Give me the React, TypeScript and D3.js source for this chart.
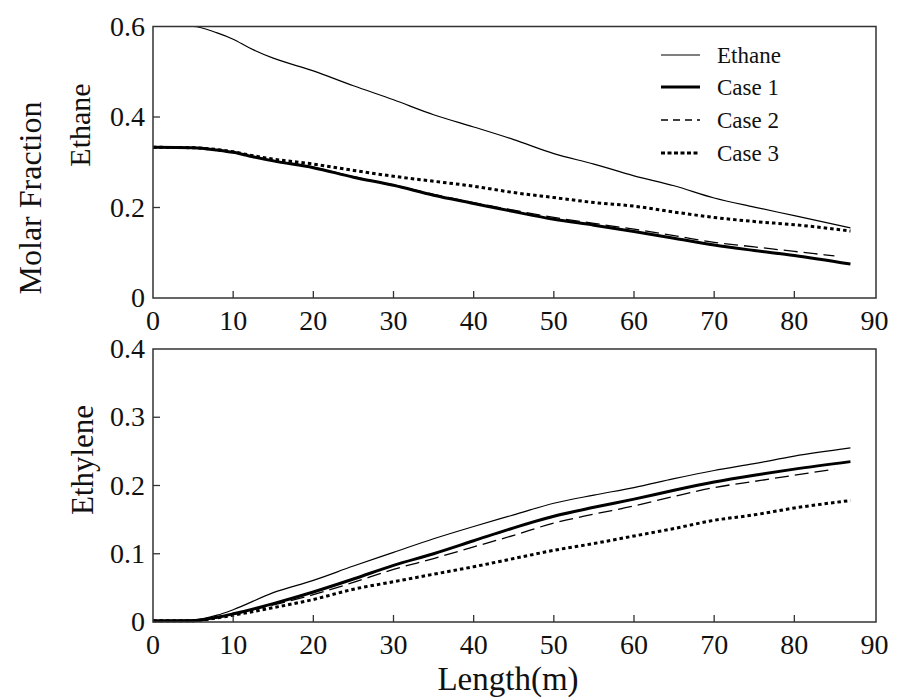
import React from "react";
import * as d3 from "d3";

// ---------- Data ----------
const xTicks = [0, 10, 20, 30, 40, 50, 60, 70, 80, 90];
const topYTicks = [0, 0.2, 0.4, 0.6];
const bottomYTicks = [0, 0.1, 0.2, 0.3, 0.4];

const seriesNames = ["Ethane", "Case 1", "Case 2", "Case 3"];

// Top panel (Ethane molar fraction)
const topX = [0, 5, 8, 10, 12, 15, 20, 25, 30, 35, 40, 45, 50, 55, 60, 65, 70, 75, 80, 87];
const topEthane = [0.6, 0.6, 0.586, 0.572, 0.553, 0.53, 0.502, 0.469, 0.438, 0.405, 0.378, 0.35, 0.319, 0.296, 0.27, 0.248, 0.221, 0.201, 0.182, 0.155];
const topCase1 = [0.333, 0.332, 0.327, 0.322, 0.314, 0.303, 0.288, 0.267, 0.249, 0.227, 0.209, 0.191, 0.174, 0.161, 0.147, 0.132, 0.117, 0.105, 0.094, 0.075];
const topCase2 = [0.333, 0.332, 0.327, 0.322, 0.314, 0.304, 0.289, 0.268, 0.25, 0.229, 0.211, 0.194, 0.178, 0.165, 0.152, 0.138, 0.123, 0.113, 0.103, 0.093];
const topCase3 = [0.333, 0.332, 0.328, 0.323, 0.316, 0.307, 0.296, 0.282, 0.269, 0.258, 0.247, 0.233, 0.222, 0.211, 0.203, 0.19, 0.178, 0.169, 0.162, 0.148];

// Bottom panel (Ethylene molar fraction)
const botX = [0, 5, 8, 10, 15, 20, 25, 30, 35, 40, 45, 50, 55, 60, 65, 70, 75, 80, 87];
const botEthane = [0.002, 0.003, 0.01, 0.018, 0.043, 0.061, 0.082, 0.102, 0.122, 0.14, 0.157, 0.174, 0.186, 0.197, 0.21, 0.222, 0.232, 0.243, 0.255];
const botCase1 = [0.002, 0.002, 0.007, 0.012, 0.027, 0.044, 0.063, 0.083, 0.1, 0.119, 0.138, 0.155, 0.168, 0.18, 0.193, 0.205, 0.215, 0.224, 0.235];
const botCase2 = [0.002, 0.002, 0.006, 0.011, 0.025, 0.04, 0.058, 0.077, 0.093, 0.11, 0.127, 0.145, 0.158, 0.17, 0.184, 0.197, 0.206, 0.215, 0.224];
const botCase3 = [0.002, 0.002, 0.006, 0.01, 0.021, 0.033, 0.048, 0.059, 0.07, 0.081, 0.093, 0.105, 0.115, 0.126, 0.137, 0.149, 0.157, 0.167, 0.178];

// ---------- Styles ----------
const FONT = "'Liberation Serif', 'Times New Roman', serif";
const styles = [
  { width: 1.2, dash: "none", legendDash: "none" },
  { width: 3, dash: "none", legendDash: "none" },
  { width: 1.3, dash: "14,6", legendDash: "7,5" },
  { width: 3, dash: "3.5,3", legendDash: "4,2.5" },
];

const W = 898;
const H = 699;
const left = 153;
const right = 876;

const x = d3.scaleLinear().domain([0, 90]).range([left, right - 1.5]);
const yTop = d3.scaleLinear().domain([0, 0.6]).range([298, 26.5]);
const yBot = d3.scaleLinear().domain([0, 0.4]).range([622, 349]);

function toPts(xs: number[], ys: number[]): [number, number][] {
  const n = Math.min(xs.length, ys.length);
  const out: [number, number][] = [];
  for (let i = 0; i < n; i++) out.push([xs[i], ys[i]]);
  return out;
}

function Panel({ y, xs, data, yTicks, isTop }: any) {
  const line = d3
    .line<[number, number]>()
    .x((d) => x(d[0]))
    .y((d) => y(d[1]))
    .curve(d3.curveMonotoneX);
  const [y0, y1] = y.range();
  return (
    <g>
      {data.map((ys: number[], i: number) => {
        let xx = xs;
        if (i === 2) {
          // Case 2 ends slightly earlier
          xx = xs.slice(0, xs.length - 1).concat([85]);
        }
        if (i === 0 && isTop) {
          xx = [1].concat(xs.slice(1));
        }
        return (
          <path
            key={i}
            d={line(toPts(xx, ys)) || ""}
            fill="none"
            stroke="#000"
            strokeWidth={styles[i].width}
            strokeDasharray={styles[i].dash}
          />
        );
      })}
      <rect
        x={left}
        y={y1}
        width={right - left}
        height={y0 - y1}
        fill="none"
        stroke="#333"
        strokeWidth={1.5}
      />
      {xTicks
        .filter((t) => t > 0 && t < 90)
        .map((t) => (
          <line key={"xt" + t} x1={x(t)} x2={x(t)} y1={y0} y2={y0 - 7} stroke="#333" strokeWidth={1.3} />
        ))}
      {xTicks.map((t) => (
        <text key={"xl" + t} x={x(t)} y={y0 + 32} textAnchor="middle" fontFamily={FONT} fontSize={28} fill="#111">
          {t}
        </text>
      ))}
      {yTicks.map((t: number, i: number) => (
        <g key={"y" + t}>
          {i > 0 && i < yTicks.length - 1 && (
            <line x1={left} x2={left + 7} y1={y(t)} y2={y(t)} stroke="#333" strokeWidth={1.3} />
          )}
          <text x={145} y={y(t) + 9} textAnchor="end" fontFamily={FONT} fontSize={28} fill="#111">
            {t === 0 ? "0" : d3.format(".1f")(t)}
          </text>
        </g>
      ))}
    </g>
  );
}

export default function App() {
  const legendY = [55, 87, 120, 153];
  return (
    <svg
      width={W}
      height={H}
      viewBox={`0 0 ${W} ${H}`}
      style={{ position: "absolute", left: 0, top: 0, background: "#fff" }}
    >
      <rect x={0} y={0} width={W} height={H} fill="#fff" />
      <Panel y={yTop} xs={topX} data={[topEthane, topCase1, topCase2, topCase3]} yTicks={topYTicks} isTop={true} />
      <Panel y={yBot} xs={botX} data={[botEthane, botCase1, botCase2, botCase3]} yTicks={bottomYTicks} isTop={false} />

      {/* Legend */}
      {seriesNames.map((name, i) => (
        <g key={name}>
          <line
            x1={661}
            x2={700}
            y1={legendY[i]}
            y2={legendY[i]}
            stroke="#000"
            strokeWidth={styles[i].width}
            strokeDasharray={styles[i].legendDash}
          />
          <text x={717} y={legendY[i] + 8} fontFamily={FONT} fontSize={23} fill="#111">
            {name}
          </text>
        </g>
      ))}

      {/* Axis titles */}
      <text
        transform="translate(41,198) rotate(-90)"
        textAnchor="middle"
        fontFamily={FONT}
        fontSize={32}
        fill="#111"
      >
        Molar Fraction
      </text>
      <text
        transform="translate(90,125) rotate(-90)"
        textAnchor="middle"
        fontFamily={FONT}
        fontSize={30}
        fill="#111"
      >
        Ethane
      </text>
      <text
        transform="translate(93,460) rotate(-90)"
        textAnchor="middle"
        fontFamily={FONT}
        fontSize={31}
        fill="#111"
      >
        Ethylene
      </text>
      <text x={508} y={690} textAnchor="middle" fontFamily={FONT} fontSize={33} fill="#111">
        Length(m)
      </text>
    </svg>
  );
}
